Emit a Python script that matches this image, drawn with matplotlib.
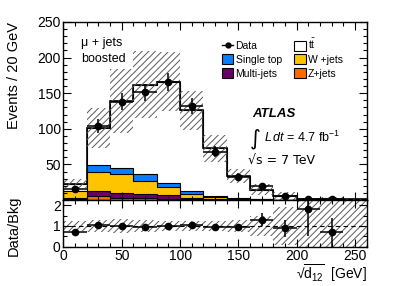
import numpy as np
import matplotlib
matplotlib.use("Agg")
import matplotlib.pyplot as plt
from matplotlib.patches import Patch
from matplotlib.lines import Line2D

plt.rcParams['font.family'] = ['Liberation Sans', 'DejaVu Sans']
plt.rcParams['mathtext.fontset'] = 'custom'
plt.rcParams['mathtext.rm'] = 'Liberation Sans'
plt.rcParams['mathtext.it'] = 'Liberation Sans:italic'
plt.rcParams['hatch.linewidth'] = 0.7

# bin edges in sqrt(d12) [GeV]
edges = np.arange(0, 280, 20)

# observed events per bin (last bin empty)
data = np.array([16, 104, 138, 151, 166, 132, 68, 32, 19, 5, 2, 1, 0])

# expected backgrounds per bin
z_jets = np.array([1.0, 5.5, 3.0, 2.5, 2.0, 1.0, 0.5, 0.3, 0.1, 0.05, 0.0, 0.0, 0.0])
multijet = np.array([2.0, 7.5, 7.0, 5.5, 4.6, 2.5, 1.0, 0.4, 0.3, 0.15, 0.1, 0.05, 0.0])
w_jets = np.array([9.0, 26.0, 26.5, 19.0, 11.2, 5.5, 2.5, 1.2, 0.6, 0.3, 0.15, 0.1, 0.05])
single_top = np.array([0.5, 10.0, 8.0, 9.5, 5.6, 3.5, 1.5, 0.7, 0.4, 0.2, 0.1, 0.05, 0.0])
ttbar = np.array([10.5, 52.0, 94.5, 125.5, 142.6, 113.5, 67.5, 31.4, 13.2, 5.0, 0.75, 1.25, 0.75])

# relative uncertainty on the total expectation
rel_unc = np.array([0.26, 0.28, 0.32, 0.29, 0.25, 0.22, 0.26, 0.28, 0.5, 0.9, 1.3, 1.5, 1.5])

labels = ["Data", "Single top", "Multi-jets", r"t$\bar{\mathrm{t}}$", "W +jets", "Z+jets"]
col_st = "#0a7cff"
col_w = "#ffc400"
col_mj = "#660066"
col_z = "#ff6a00"

# stack
c1 = z_jets
c2 = c1 + multijet
c3 = c2 + w_jets
c4 = c3 + single_top
total = c4 + ttbar

centers = 0.5 * (edges[:-1] + edges[1:])
has = data > 0

fig = plt.figure(figsize=(3.99, 2.86), dpi=100)
ax = fig.add_axes([0.159, 0.3007, 0.760, 0.6224])
rax = fig.add_axes([0.159, 0.1374, 0.760, 0.1633])

# stacked histograms, drawn top down
for vals, col in [(total, "white"), (c4, col_st), (c3, col_w), (c2, col_mj), (c1, col_z)]:
    ax.stairs(vals, edges, baseline=0, fill=True, facecolor=col, edgecolor="black", lw=0.8)
ax.stairs(total, edges, color="black", lw=1.2)

# uncertainty band
err = total * rel_unc
ax.bar(edges[:-1], 2 * err, bottom=total - err, width=20, align="edge",
       facecolor="none", edgecolor="0.35", hatch="/////", linewidth=0)

ax.errorbar(centers[has], data[has], yerr=np.sqrt(data[has]), xerr=10,
            fmt="o", color="black", ms=4.5, lw=1.1, capsize=0)

ax.set_xlim(0, 260)
ax.set_ylim(0, 250)
ax.set_yticks([50, 100, 150, 200, 250])
ax.set_xticks([0, 50, 100, 150, 200, 250])
ax.set_xticklabels([])
ax.yaxis.set_minor_locator(matplotlib.ticker.MultipleLocator(10))
ax.xaxis.set_minor_locator(matplotlib.ticker.MultipleLocator(10))

# legend
handles = [
    Line2D([], [], color="black", marker="o", ms=3.5, lw=1.0),
    Patch(facecolor=col_st, edgecolor="black", lw=0.8),
    Patch(facecolor=col_mj, edgecolor="black", lw=0.8),
    Patch(facecolor="white", edgecolor="black", lw=0.8),
    Patch(facecolor=col_w, edgecolor="black", lw=0.8),
    Patch(facecolor=col_z, edgecolor="black", lw=0.8),
]
ax.legend(handles, labels, ncol=2, loc="upper left", bbox_to_anchor=(0.523, 0.915),
          frameon=False, fontsize=7.5, handlelength=1.1, handleheight=1.1,
          handletextpad=0.2, labelspacing=0.3, columnspacing=1.2, borderpad=0,
          borderaxespad=0)

ax.text(0.058, 0.88, "\u03bc + jets", transform=ax.transAxes, fontsize=9, va="center")
ax.text(0.058, 0.79, "boosted", transform=ax.transAxes, fontsize=9, va="center")
ax.text(0.624, 0.483, "ATLAS", transform=ax.transAxes, fontsize=9.5,
        fontweight="bold", fontstyle="italic", va="center")
ax.text(0.615, 0.345, "\u222b", transform=ax.transAxes, fontsize=15, va="center",
        family=["DejaVu Sans"])
ax.text(0.66, 0.35, r"$L\,dt$ = 4.7 fb$^{\mathregular{-1}}$", transform=ax.transAxes,
        fontsize=9, va="center")
ax.text(0.61, 0.225, "\u221as = 7 TeV", transform=ax.transAxes,
        fontsize=9, va="center", family=["DejaVu Sans"])

# ratio panel
ratio_err = rel_unc
rax.bar(edges[:-1], 2 * ratio_err, bottom=1 - ratio_err, width=20, align="edge",
        facecolor="none", edgecolor="0.35", hatch="/////", linewidth=0)
rax.axhline(1, color="black", lw=0.8, ls=(0, (4, 3)))
ratio = data[has] / total[has]
rax.errorbar(centers[has], ratio, yerr=np.sqrt(data[has]) / total[has], xerr=10,
             fmt="o", color="black", ms=4.5, lw=1.1, capsize=0)
rax.set_xlim(0, 260)
rax.set_ylim(0, 2.25)
rax.set_yticks([0, 1, 2])
rax.set_xticks([0, 50, 100, 150, 200, 250])
rax.xaxis.set_minor_locator(matplotlib.ticker.MultipleLocator(10))
rax.yaxis.set_minor_locator(matplotlib.ticker.MultipleLocator(0.5))

for a in (ax, rax):
    a.tick_params(which="both", direction="in", top=True, right=True, labelsize=10, pad=2)
    a.tick_params(which="major", length=6, width=0.8)
    a.tick_params(which="minor", length=3, width=0.8)
    for s in a.spines.values():
        s.set_linewidth(1.0)

fig.text(0.035, 0.923, "Events / 20 GeV", rotation=90, ha="center", va="top", fontsize=10.5)
fig.text(0.035, 0.21, "Data/Bkg", rotation=90, ha="center", va="center", fontsize=10.5)
fig.text(0.919, 0.008, "\u221a" + r"$\overline{\mathrm{d}_{\mathregular{12}}}$" + "  [GeV]",
         ha="right", va="bottom", fontsize=10)

fig.savefig("out.png", dpi=100)
